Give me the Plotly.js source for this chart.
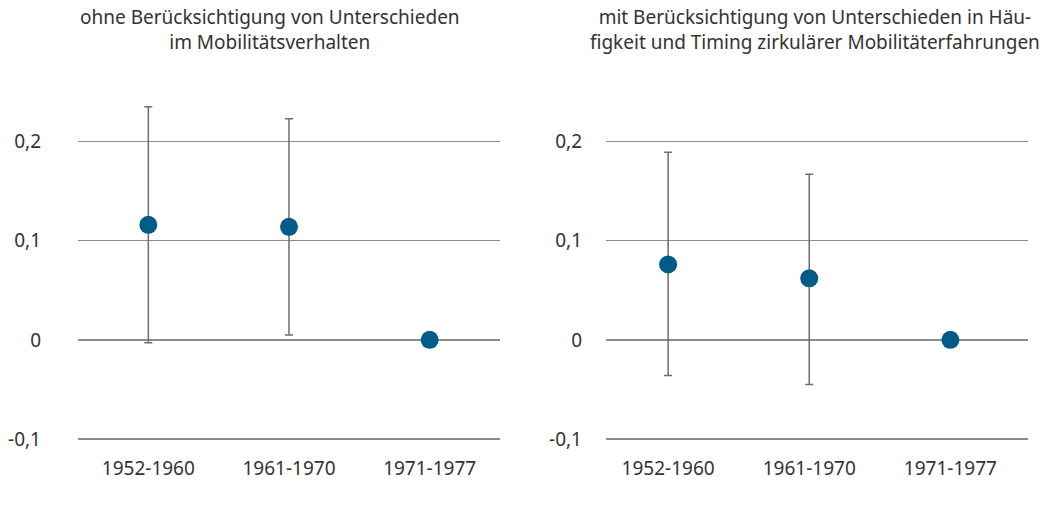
<!DOCTYPE html>
<html>
<head>
<meta charset="utf-8">
<script src="https://cdn.plot.ly/plotly-3.0.1.min.js"></script>
<style>
html,body{margin:0;padding:0;background:#fff;}
#chart{width:1040px;height:513px;}
</style>
</head>
<body>
<div id="chart"></div>
<script>
// Data
const categories = ["1952-1960", "1961-1970", "1971-1977"];
const leftTitle = "ohne Berücksichtigung von Unterschieden<br>im Mobilitätsverhalten";
const rightTitle = "mit Berücksichtigung von Unterschieden in Häu-<br>figkeit und Timing zirkulärer Mobilitäterfahrungen";
const leftValues = [0.116, 0.114, 0.0];
const leftUpper = [0.235, 0.223, 0.0];
const leftLower = [-0.003, 0.005, 0.0];
const rightValues = [0.076, 0.062, 0.0];
const rightUpper = [0.189, 0.167, 0.0];
const rightLower = [-0.036, -0.045, 0.0];
const yTickVals = [-0.1, 0, 0.1, 0.2];
const yTickText = ["-0,1", "0", "0,1", "0,2"];

const markerColor = "#005b87";
const errColor = "#6e6e6e";
const textColor = "#333333";
const fontFam = "'Noto Sans', 'Open Sans', sans-serif";
const fs = 19;

function mkTrace(vals, up, lo, xa, ya) {
  return {
    type: "scatter",
    mode: "markers",
    x: categories,
    y: vals,
    xaxis: xa,
    yaxis: ya,
    marker: {color: markerColor, size: 18},
    error_y: {
      type: "data",
      symmetric: false,
      array: up.map((u, i) => u - vals[i]),
      arrayminus: vals.map((v, i) => v - lo[i]),
      color: errColor,
      thickness: 1.5,
      width: 4,
      visible: true
    },
    hoverinfo: "skip",
    showlegend: false
  };
}

const traces = [
  mkTrace(leftValues, leftUpper, leftLower, "x", "y"),
  mkTrace(rightValues, rightUpper, rightLower, "x2", "y2")
];

const yBase = {
  range: [-0.11, 0.27],
  tickvals: yTickVals,
  ticktext: yTickText,
  showgrid: true,
  gridcolor: "#8c8c8c",
  gridwidth: 1.5,
  zeroline: false,
  showline: false,
  ticks: "",
  tickfont: {family: fontFam, size: fs, color: textColor},
  fixedrange: true,
  automargin: false
};

const xBase = {
  type: "category",
  showgrid: false,
  zeroline: false,
  showline: false,
  ticks: "",
  tickfont: {family: fontFam, size: fs, color: textColor},
  automargin: false,
  fixedrange: true
};

const layout = {
  width: 1040,
  height: 513,
  margin: {l: 0, r: 0, t: 72, b: 64},
  paper_bgcolor: "#ffffff",
  plot_bgcolor: "#ffffff",
  showlegend: false,
  xaxis: Object.assign({}, xBase, {domain: [78/1040, 500/1040], range: [-0.5, 2.5], anchor: "y", ticklabelstandoff: 6}),
  yaxis: Object.assign({}, yBase, {domain: [0, 1], anchor: "x", ticklabelstandoff: 36}),
  xaxis2: Object.assign({}, xBase, {domain: [606/1040, 1028/1040], range: [-0.44, 2.55], anchor: "y2", ticklabelstandoff: 6}),
  yaxis2: Object.assign({}, yBase, {domain: [0, 1], anchor: "x2", ticklabelstandoff: 23}),
  annotations: [
    {text: leftTitle, x: 270/1040, xref: "paper", yref: "paper",
     xanchor: "center", yanchor: "top", showarrow: false, align: "center",
     font: {family: fontFam, size: fs, color: textColor}},
    {text: rightTitle, x: 815/1040, xref: "paper", yref: "paper",
     xanchor: "center", yanchor: "top", showarrow: false, align: "center",
     font: {family: fontFam, size: fs, color: textColor}}
  ]
};
layout.annotations.forEach(a => { a.y = 1 + 70/(513-72-64); });

Plotly.newPlot("chart", traces, layout, {displayModeBar: false, staticPlot: true});
</script>
</body>
</html>
